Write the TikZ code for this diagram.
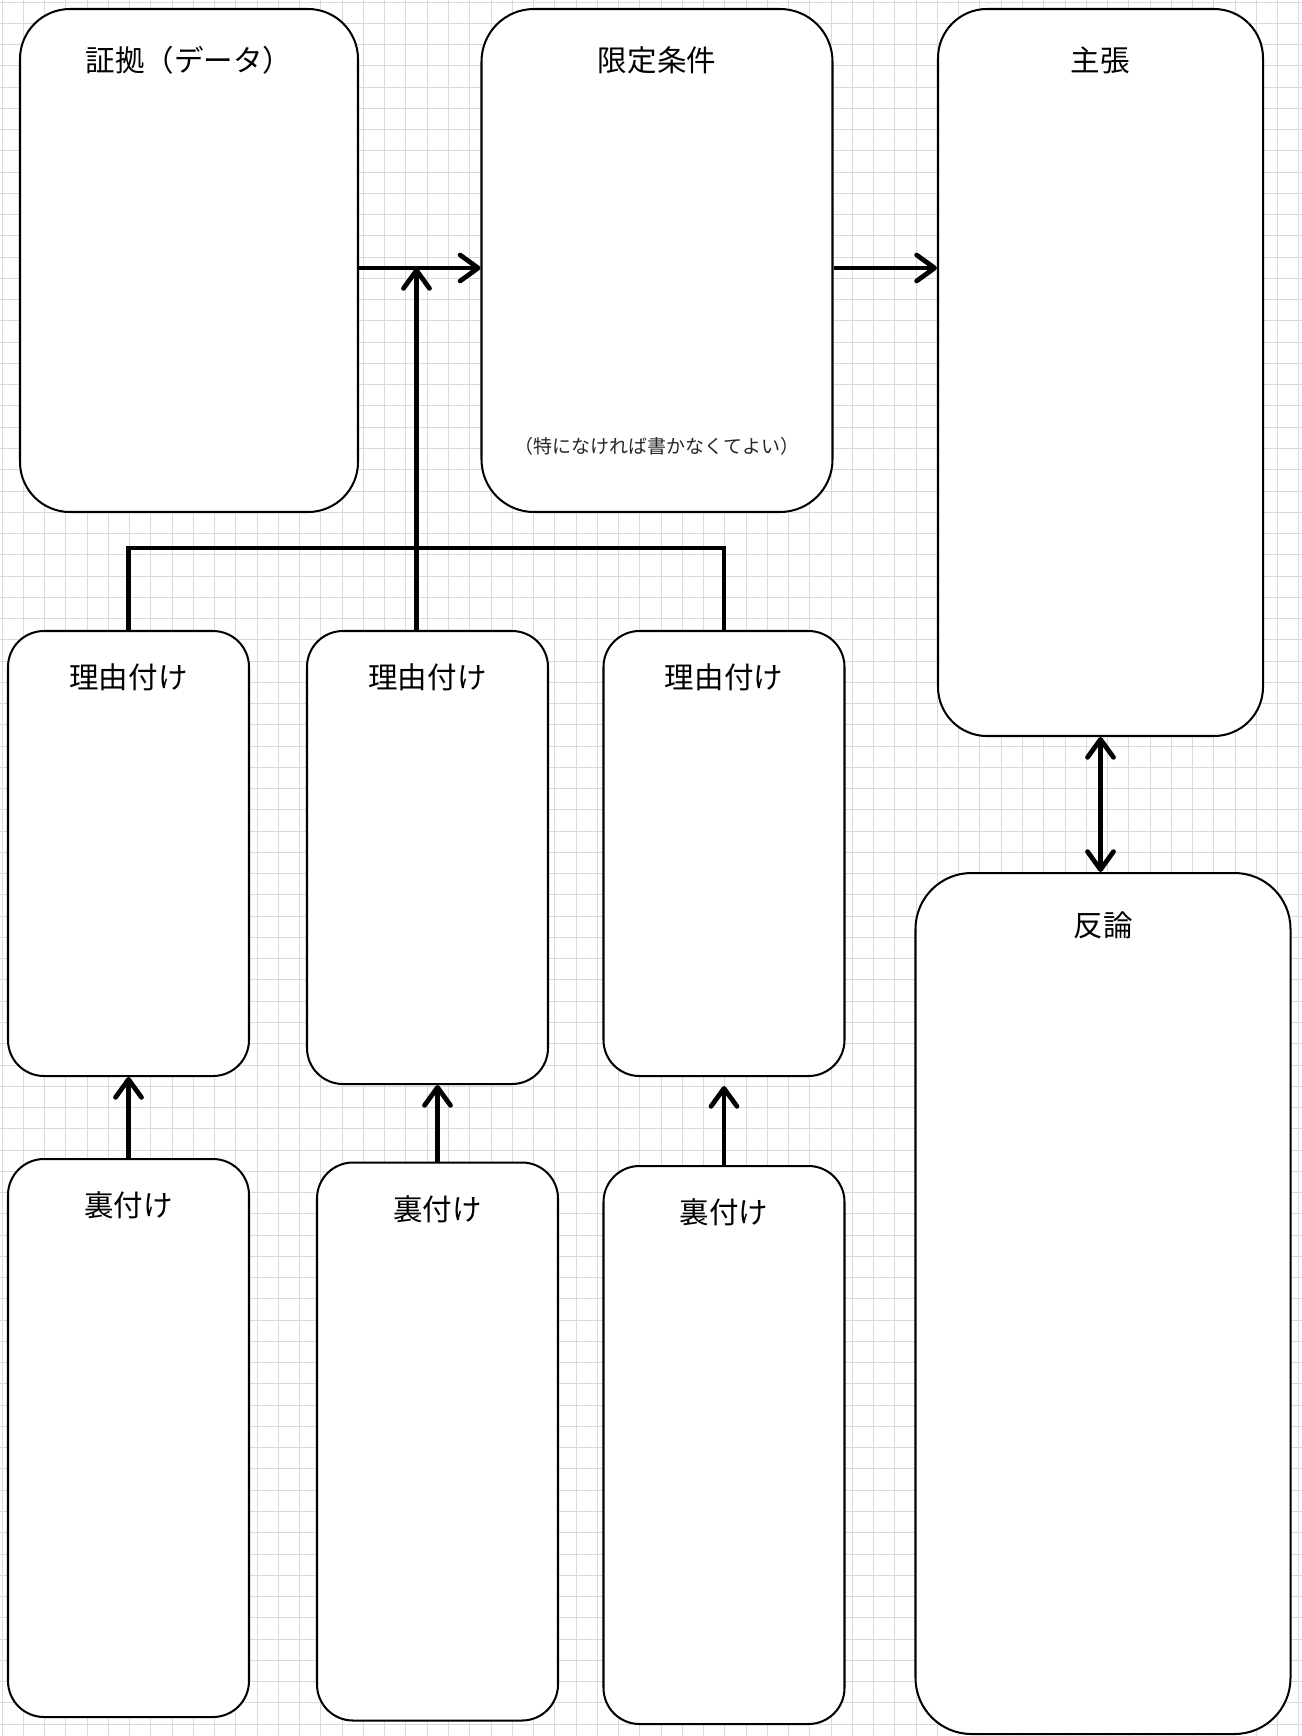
\documentclass[tikz,border=0pt]{standalone}
\usepackage{fontspec}
\newfontfamily\jpfont{Noto Sans CJK JP}
\usepackage{xcolor}
\definecolor{toulmin-grid}{HTML}{DADADA}
\definecolor{toulmin-line}{HTML}{000000}
\usepackage{tikz}
\usetikzlibrary{arrows.meta}

\begin{document}
\begin{tikzpicture}[
  font=\jpfont,
  every node/.style={align=center},
  box/.style={rectangle, draw=toulmin-line, line width=1.15pt, rounded corners=#1, inner sep=0pt, fill=white},
  box/.default=1cm,
  title/.style={inner sep=0pt, font=\jpfont\fontsize{16.8}{20}\selectfont, text=toulmin-line},
  note/.style={inner sep=0pt, font=\jpfont\fontsize{10.8}{13}\selectfont, text=toulmin-line!85},
  gridline/.style={line width=0.55pt, toulmin-grid},
  link/.style={line width=2.7pt, toulmin-line},
  arrow/.style={link, -{Straight Barb[length=0.36cm, width=0.52cm, line cap=round, line join=round]}},
  biarrow/.style={link, {Straight Barb[length=0.36cm, width=0.52cm, line cap=round, line join=round]}-{Straight Barb[length=0.36cm, width=0.52cm, line cap=round, line join=round]}}
]
  \useasboundingbox (0,0) rectangle (26.04,-34.72);
  \fill[white] (0,0) rectangle (26.04,-34.72);
  \foreach \k in {0,...,61} {
    \draw[gridline] (0.04+\k*0.4252,0) -- (0.04+\k*0.4252,-34.72);
  }
  \foreach \k in {0,...,81} {
    \draw[gridline] (0,-0.04-\k*0.4252) -- (26.04,-0.04-\k*0.4252);
  }

  \node[box=1cm,    minimum width=6.76cm, minimum height=10.06cm] (ev)    at (3.78,-5.21)   {};
  \node[box=1.05cm, minimum width=7.02cm, minimum height=10.06cm] (qual)  at (13.14,-5.21)  {};
  \node[box=0.98cm, minimum width=6.5cm,  minimum height=14.54cm] (claim) at (22.01,-7.45)  {};
  \node[box=1.12cm, minimum width=7.5cm,  minimum height=17.22cm] (reb)   at (22.06,-26.07) {};
  \node[box=0.72cm, minimum width=4.82cm, minimum height=8.9cm]   (r1)    at (2.57,-17.07)  {};
  \node[box=0.72cm, minimum width=4.82cm, minimum height=9.06cm]  (r2)    at (8.55,-17.15)  {};
  \node[box=0.72cm, minimum width=4.82cm, minimum height=8.9cm]   (r3)    at (14.48,-17.07) {};
  \node[box=0.72cm, minimum width=4.82cm, minimum height=11.16cm] (b1)    at (2.57,-28.76)  {};
  \node[box=0.72cm, minimum width=4.82cm, minimum height=11.16cm] (b2)    at (8.75,-28.83)  {};
  \node[box=0.72cm, minimum width=4.82cm, minimum height=11.16cm] (b3)    at (14.48,-28.9)  {};

  \node[title] (ev-t)    at ([yshift=-1.04cm]ev.north)    {証拠（データ）};
  \node[title] (qual-t)  at ([yshift=-1.04cm]qual.north)  {限定条件};
  \node[note]  (qual-n)  at ([yshift=1.34cm]qual.south)   {（特になければ書かなくてよい）};
  \node[title] (claim-t) at ([yshift=-1.04cm]claim.north) {主張};
  \node[title] (reb-t)   at ([yshift=-1.07cm]reb.north)   {反論};
  \foreach \r in {r1, r2, r3} {
    \node[title] (\r-t) at ([yshift=-0.94cm]\r.north) {理由付け};
  }
  \foreach \b in {b1, b2, b3} {
    \node[title] (\b-t) at ([yshift=-0.95cm]\b.north) {裏付け};
  }

  \coordinate (evline) at ([yshift=-0.15cm]ev.east);
  \coordinate (qualline) at ([yshift=-0.15cm]qual.east);
  \coordinate (r2top) at ([xshift=-0.22cm]r2.north);
  \coordinate (brace) at (0,-10.96);

  \draw[arrow] (evline) -- (evline -| qual.west);
  \draw[arrow] (qualline) -- (qualline -| claim.west);
  \draw[arrow] (r2top) -- (r2top |- evline);
  \draw[link] (r1.north) -- (r1.north |- brace) -- (r3.north |- brace) -- (r3.north);
  \draw[biarrow] (claim.south) -- (claim.south |- reb.north);
  \draw[arrow] (b1.north) -- (r1.south);
  \draw[arrow] (b2.north) -- (b2.north |- r2.south);
  \draw[arrow] (b3.north) -- ([yshift=-0.18cm]r3.south);
\end{tikzpicture}
\end{document}
